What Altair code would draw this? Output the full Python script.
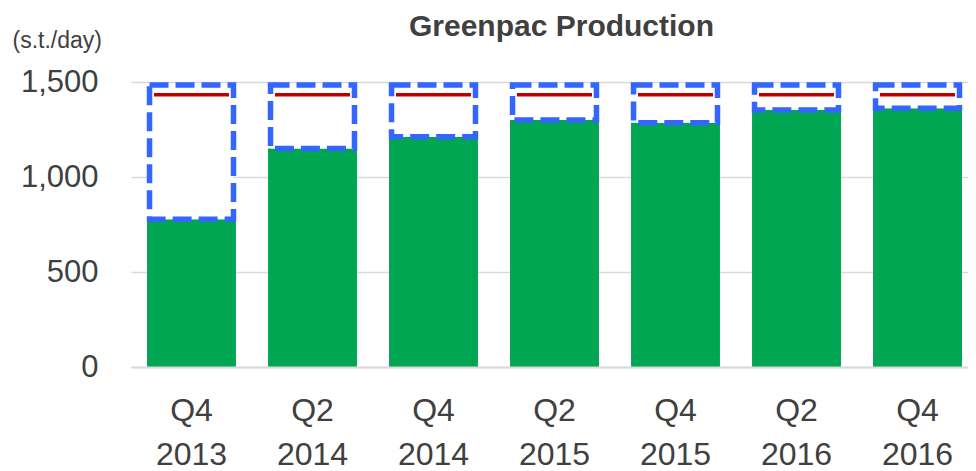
import altair as alt
import pandas as pd

quarters = ["Q4 2013", "Q2 2014", "Q4 2014", "Q2 2015", "Q4 2015", "Q2 2016", "Q4 2016"]
production = [778, 1150, 1212, 1300, 1285, 1353, 1362]
capacity = [1500, 1500, 1500, 1500, 1500, 1500, 1500]
target = [1433, 1433, 1433, 1433, 1433, 1433, 1433]
y_ticks = [0, 500, 1000, 1500]

df = pd.DataFrame({"quarter": quarters, "production": production,
                   "capacity": capacity, "target": target})

FONT = "Liberation Sans, Arial, sans-serif"
TXT = "#404040"

x = alt.X("quarter:N", sort=quarters, title=None,
          scale=alt.Scale(paddingInner=0.265, paddingOuter=0.1325, range=[0, 847]),
          axis=alt.Axis(labelExpr="split(datum.label, ' ')", labelAngle=0,
                        labelFont=FONT, labelFontSize=32, labelColor=TXT,
                        labelLineHeight=44, labelPadding=28, labelBaseline="top",
                        ticks=False, domain=True, domainColor="#d9d9d9",
                        domainWidth=2, zindex=1))

yscale = alt.Scale(domain=[0, 1500], nice=False)
yaxis = alt.Axis(values=y_ticks, format=",d", title="(s.t./day)", titleAngle=0,
                 titleAlign="left", titleBaseline="alphabetic", titleX=-119,
                 titleY=-35, titleFont=FONT, titleFontSize=23,
                 titleFontWeight="normal", titleColor=TXT,
                 labelFont=FONT, labelFontSize=31, labelColor=TXT,
                 labelPadding=33, ticks=False, domain=False,
                 gridColor="#d9d9d9", gridWidth=1.5)

base = alt.Chart(df).encode(x=x)

bars = base.mark_bar(color="#00A651").encode(
    y=alt.Y("production:Q", scale=yscale, axis=yaxis))

gap = base.mark_bar(fill="white", stroke="#3366FF", strokeWidth=5.5,
                    strokeDash=[19, 7], width=alt.RelativeBandSize(0.944),
                    y2Offset=3).encode(
    y=alt.Y("production:Q", scale=yscale), y2="capacity:Q")

line = base.mark_tick(color="#C00000", thickness=3.5, size=75, opacity=1).encode(
    y=alt.Y("target:Q", scale=yscale))

chart = alt.layer(bars, gap, line).properties(
    width=837, height=285,
    autosize=alt.AutoSizeParams(type="none"),
    padding={"left": 123, "top": 74, "right": 0, "bottom": 105},
    title=alt.TitleParams("Greenpac Production", font=FONT,
                          fontSize=30, fontWeight="bold", color=TXT,
                          anchor="middle", frame="group", baseline="alphabetic",
                          offset=0, dy=37, dx=12),
).configure_view(stroke=None)

chart.save("out.html", embed_options={"renderer": "svg", "actions": False})
